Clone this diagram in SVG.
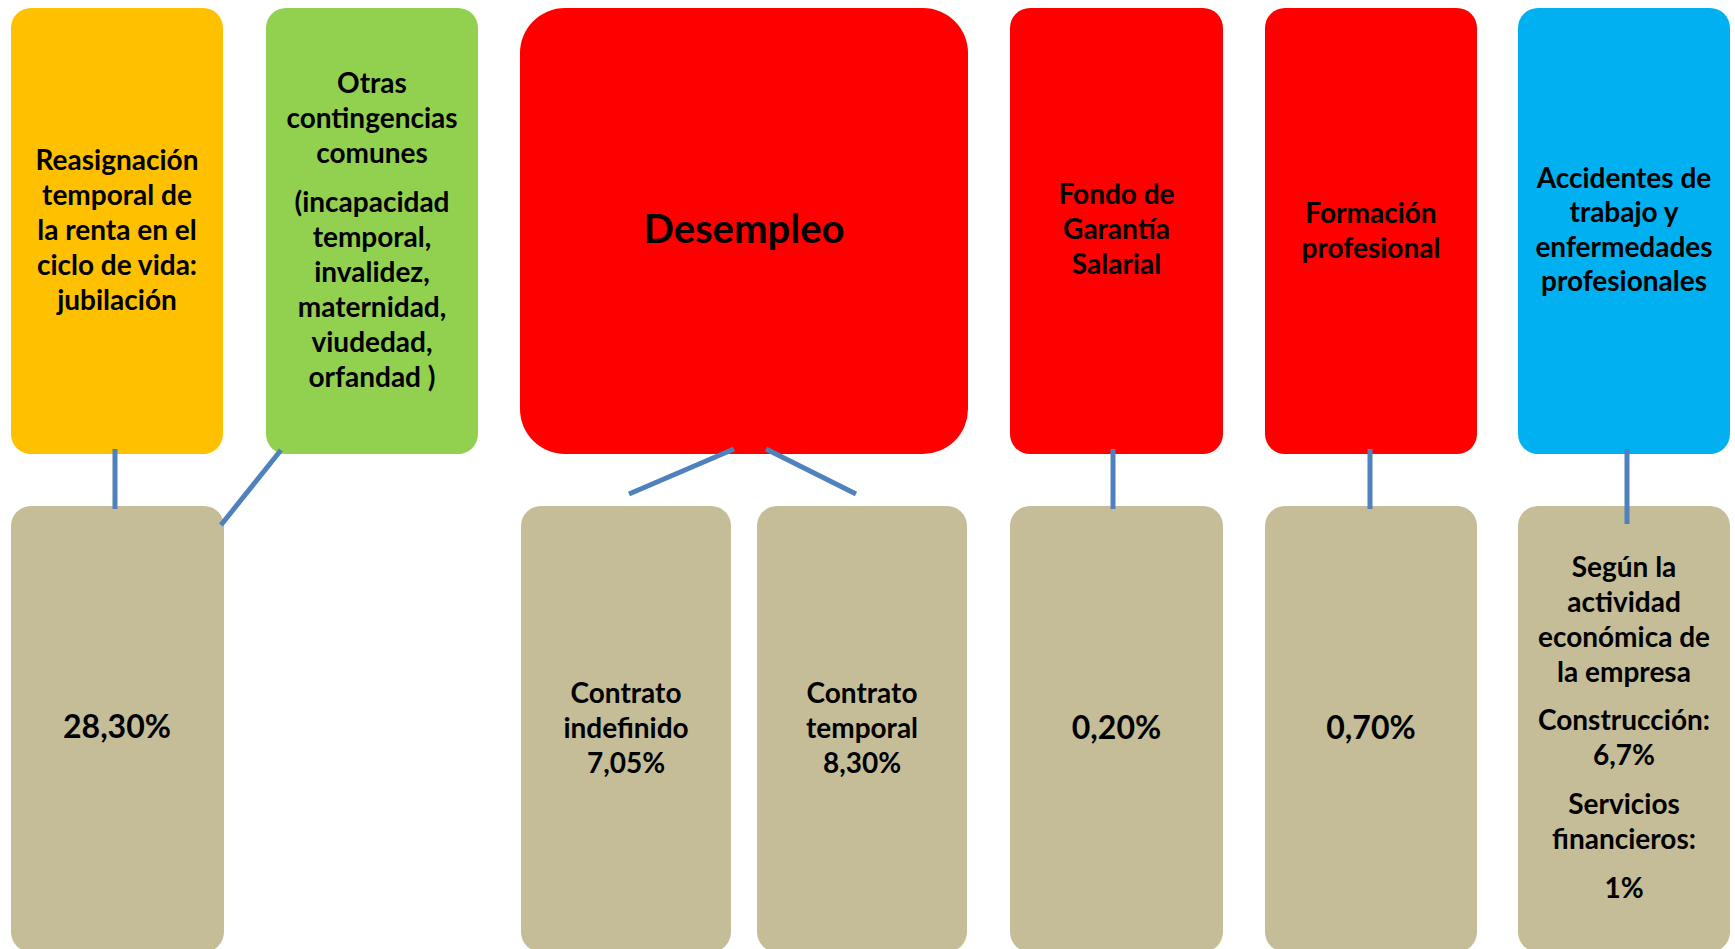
<svg xmlns="http://www.w3.org/2000/svg" width="1735" height="949" viewBox="0 0 1735 949">
<style>
.t{font-family:Lato,"Liberation Sans",sans-serif;font-weight:bold;font-size:28px;fill:#000;text-anchor:middle}
.big{font-size:40px}
.pct{font-size:32px}
.c{stroke:#4F81BD;stroke-width:5;fill:none}
.tan{fill:#C4BD97}
</style>
<rect width="1735" height="949" fill="#fff"/>
<g id="n-jubilacion">
<rect x="11" y="8" width="212" height="446" rx="20" fill="#FFC000"/>
<text class="t" x="117" y="170">Reasignación</text>
<text class="t" x="117" y="205">temporal de</text>
<text class="t" x="117" y="240">la renta en el</text>
<text class="t" x="117" y="275">ciclo de vida:</text>
<text class="t" x="117" y="310">jubilación</text>
</g>
<g id="n-otras">
<rect x="266" y="8" width="212" height="446" rx="20" fill="#92D050"/>
<text class="t" x="372" y="93">Otras</text>
<text class="t" x="372" y="128">contingencias</text>
<text class="t" x="372" y="163">comunes</text>
<text class="t" x="372" y="212">(incapacidad</text>
<text class="t" x="372" y="247">temporal,</text>
<text class="t" x="372" y="282">invalidez,</text>
<text class="t" x="372" y="317">maternidad,</text>
<text class="t" x="372" y="352">viudedad,</text>
<text class="t" x="372" y="387">orfandad )</text>
</g>
<g id="n-desempleo">
<rect x="520" y="8" width="448" height="446" rx="45" fill="#FF0000"/>
<text class="t big" x="744" y="243">Desempleo</text>
</g>
<g id="n-fondo">
<rect x="1010" y="8" width="213" height="446" rx="20" fill="#FF0000"/>
<text class="t" x="1116.5" y="204">Fondo de</text>
<text class="t" x="1116.5" y="239">Garantía</text>
<text class="t" x="1116.5" y="274">Salarial</text>
</g>
<g id="n-formacion">
<rect x="1265" y="8" width="212" height="446" rx="20" fill="#FF0000"/>
<text class="t" x="1371" y="223">Formación</text>
<text class="t" x="1371" y="258">profesional</text>
</g>
<g id="n-accidentes">
<rect x="1518" y="8" width="212" height="446" rx="20" fill="#00B0F0"/>
<text class="t" x="1624" y="188">Accidentes de</text>
<text class="t" x="1624" y="222">trabajo y</text>
<text class="t" x="1624" y="257">enfermedades</text>
<text class="t" x="1624" y="291">profesionales</text>
</g>
<g id="n-p2830">
<rect class="tan" x="11" y="506" width="213" height="446" rx="20"/>
<text class="t pct" x="117" y="738">28,30%</text>
</g>
<g id="n-indefinido">
<rect class="tan" x="521" y="506" width="210" height="446" rx="20"/>
<text class="t" x="626" y="703">Contrato</text>
<text class="t" x="626" y="738">indefinido</text>
<text class="t" x="626" y="773">7,05%</text>
</g>
<g id="n-temporal">
<rect class="tan" x="757" y="506" width="210" height="446" rx="20"/>
<text class="t" x="862" y="703">Contrato</text>
<text class="t" x="862" y="738">temporal</text>
<text class="t" x="862" y="773">8,30%</text>
</g>
<g id="n-p020">
<rect class="tan" x="1010" y="506" width="213" height="446" rx="20"/>
<text class="t pct" x="1116.5" y="739">0,20%</text>
</g>
<g id="n-p070">
<rect class="tan" x="1265" y="506" width="212" height="446" rx="20"/>
<text class="t pct" x="1371" y="739">0,70%</text>
</g>
<g id="n-actividad">
<rect class="tan" x="1518" y="506" width="212" height="446" rx="20"/>
<text class="t" x="1624" y="577">Según la</text>
<text class="t" x="1624" y="612">actividad</text>
<text class="t" x="1624" y="647">económica de</text>
<text class="t" x="1624" y="682">la empresa</text>
<text class="t" x="1624" y="730">Construcción:</text>
<text class="t" x="1624" y="765">6,7%</text>
<text class="t" x="1624" y="814">Servicios</text>
<text class="t" x="1624" y="849">financieros:</text>
<text class="t" x="1624" y="898">1%</text>
</g>
<g id="connectors">
<line class="c" x1="115" y1="449" x2="115" y2="509"/>
<line class="c" x1="281" y1="450" x2="221" y2="525"/>
<line class="c" x1="734" y1="449" x2="629" y2="494"/>
<line class="c" x1="766" y1="449" x2="856" y2="494"/>
<line class="c" x1="1113" y1="449" x2="1113" y2="509"/>
<line class="c" x1="1370" y1="449" x2="1370" y2="509"/>
<line class="c" x1="1627" y1="449" x2="1627" y2="524"/>
</g>
</svg>
